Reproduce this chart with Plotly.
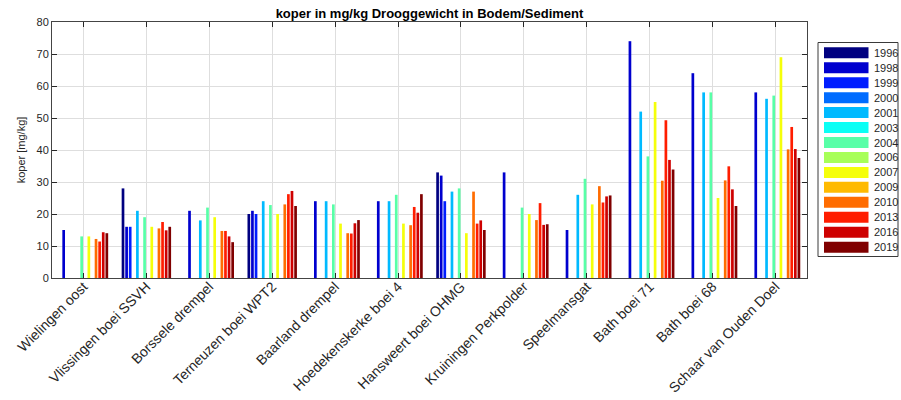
import plotly.graph_objects as go

stations = ["Wielingen oost", "Vlissingen boei SSVH", "Borssele drempel", "Terneuzen boei WPT2",
            "Baarland drempel", "Hoedekenskerke boei 4", "Hansweert boei OHMG", "Kruiningen Perkpolder",
            "Speelmansgat", "Bath boei 71", "Bath boei 68", "Schaar van Ouden Doel"]
years = ["1996", "1998", "1999", "2000", "2001", "2003", "2004", "2006", "2007", "2009",
         "2010", "2013", "2016", "2019"]
N = None
v1996 = [N, 28, N, 20, N, N, 33, N, N, N, N, N]
v1998 = [15, 16, 21, 21, 24, 24, 32, 33, 15, 74, 64, 58]
v1999 = [N, 16, N, 20, N, N, 24, N, N, N, N, N]
v2000 = [N, N, N, N, N, N, N, N, N, N, N, N]
v2001 = [N, 21, 18, 24, 24, 24, 27, N, 26, 52, 58, 56]
v2003 = [N, N, N, N, N, N, N, N, N, N, N, N]
v2004 = [13, 19, 22, 22.8, 23, 26, 28, 22, 31, 38, 58, 57]
v2006 = [N, N, N, N, N, N, N, N, N, N, N, N]
v2007 = [13, 16, 19, 20, 17, 17, 14, 20, 23, 55, 25, 69]
v2009 = [N, N, N, N, N, N, N, N, N, N, N, N]
v2010 = [12.2, 15.5, 14.7, 23, 14, 16.5, 27, 18.1, 28.7, 30.4, 30.5, 40.2]
v2013 = [11.4, 17.5, 14.7, 26.2, 13.9, 22.2, 17, 23.4, 23.6, 49.3, 34.9, 47.2]
v2016 = [14.3, 14.9, 13, 27.2, 17.1, 20.4, 18, 16.6, 25.5, 36.9, 27.7, 40.3]
v2019 = [14, 16, 11.2, 22.5, 18.1, 26.2, 15, 16.8, 25.8, 33.9, 22.5, 37.5]
series = [v1996, v1998, v1999, v2000, v2001, v2003, v2004, v2006, v2007, v2009,
          v2010, v2013, v2016, v2019]

colors = ["#000080", "#0000CE", "#001DFF", "#006CFF", "#00BAFF", "#0AFFF5", "#58FFA7",
          "#A7FF58", "#F5FF0A", "#FFBA00", "#FF6C00", "#FF1D00", "#CE0000", "#800000"]

FONT = "Liberation Sans, Arial, sans-serif"
W, H = 901, 400
L, R, T, B = 52, 94, 22, 122

fig = go.Figure()
for yr, vals, col in zip(years, series, colors):
    fig.add_trace(go.Bar(x=stations, y=vals, name=yr, marker=dict(color=col, line=dict(width=0)),
                         showlegend=False))

# custom legend (MATLAB style)
pw, ph = W - L - R, H - T - B
def px2x(px):
    return (px - L) / pw
def py2y(py):
    return (H - B - py) / ph

shapes = [dict(type="rect", xref="paper", yref="paper",
               x0=px2x(818), x1=px2x(898), y0=py2y(256.5), y1=py2y(42.5),
               line=dict(color="#3a3a3a", width=1), fillcolor="white", layer="above")]
annotations = []
for i, (yr, col) in enumerate(zip(years, colors)):
    top = 47.3 + i * 14.95
    shapes.append(dict(type="rect", xref="paper", yref="paper",
                       x0=px2x(824), x1=px2x(868.5), y0=py2y(top + 11), y1=py2y(top),
                       line=dict(width=0), fillcolor=col, layer="above"))
    annotations.append(dict(xref="paper", yref="paper", x=px2x(871.5), y=py2y(top + 5.5),
                            text=yr, showarrow=False, xanchor="left", yanchor="middle",
                            font=dict(family=FONT, size=11, color="#262626")))

fig.update_layout(
    width=W, height=H,
    margin=dict(l=L, r=R, t=T, b=B, autoexpand=False),
    paper_bgcolor="white", plot_bgcolor="white",
    barmode="group", bargap=0.2, bargroupgap=0.25,
    title=dict(text="<b>koper in mg/kg Drooggewicht in Bodem/Sediment</b>",
               x=(L + pw / 2) / W, xanchor="center", y=1 - 13 / H, yanchor="middle",
               font=dict(family=FONT, size=13, color="black")),
    shapes=shapes, annotations=annotations,
    showlegend=False,
)
fig.update_xaxes(
    type="category", tickangle=-45, showgrid=True, gridcolor="#dedede", gridwidth=1,
    ticks="inside", ticklen=5, tickcolor="#262626", mirror="ticks", showline=True,
    linecolor="#444444", linewidth=1, automargin=False, ticklabelstandoff=-6,
    tickfont=dict(family=FONT, size=14, color="#262626"),
)
fig.update_yaxes(
    range=[0, 80], dtick=10, showgrid=True, gridcolor="#dedede", gridwidth=1,
    ticks="inside", ticklen=5, tickcolor="#262626", mirror="ticks", showline=True,
    linecolor="#444444", linewidth=1, zeroline=False, automargin=False,
    tickfont=dict(family=FONT, size=11, color="#262626"),
    title=dict(text="koper [mg/kg]", font=dict(family=FONT, size=11, color="#262626"), standoff=8),
)

fig.write_html("out.html", config={"displayModeBar": False},
               post_script="document.body.style.margin='0';document.body.style.overflow='hidden';")
